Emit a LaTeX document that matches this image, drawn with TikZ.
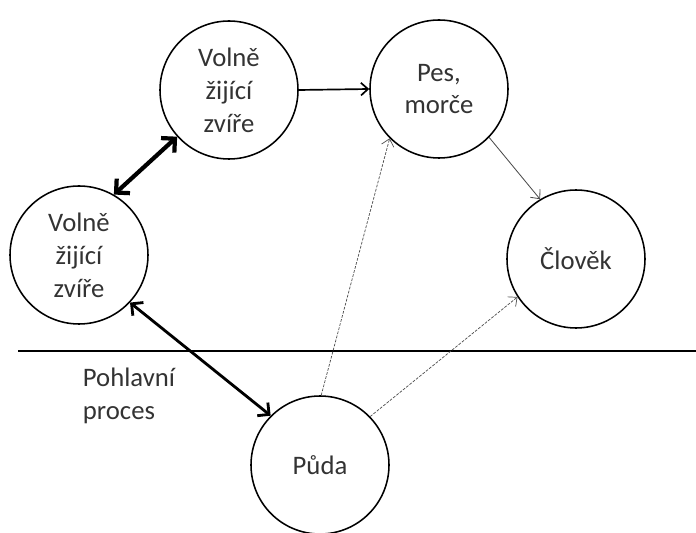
\documentclass[tikz,border=0pt]{standalone}
\usepackage{fontspec}
\setmainfont{Carlito}
\usepackage{tikz}
\usetikzlibrary{arrows.meta}

\begin{document}
\begin{tikzpicture}[
    kruh/.style={shape=circle,draw=black,line width=1.1pt,minimum size=3.45cm,inner sep=0pt,
        align=center,text=black!80,font=\fontsize{19}{23.4}\selectfont},
    sipka/.style={-{Straight Barb[length=5pt,width=9pt]}}]
    \useasboundingbox (0,0) rectangle (17.4,13.3);
    \node[kruh] (1) at (5.725,11.05) {Volně\\žijící\\zvíře};
    \node[kruh] (2) at (10.975,11.075) {Pes,\\morče};
    \node[kruh] (3) at (1.975,6.925) {Volně\\žijící\\zvíře};
    \node[kruh] (4) at (14.4,6.825) {Člověk};
    \node[kruh] (5) at (8.0,1.675) {Půda};
    \node[anchor=west,align=left,text=black!80,font=\fontsize{19}{23.4}\selectfont] (6) at (1.95,3.4) {Pohlavní\\proces};
    \path[draw=black,line width=0.8pt] (0.45,4.525) -- (17.4,4.525);
    \draw[sipka,line width=1.2pt] (1.0) -- (2.180);
    \draw[{Straight Barb[length=7pt,width=14pt]}-{Straight Barb[length=7pt,width=14pt]},line width=3pt] (1.222) -- (3.60);
    \draw[{Straight Barb[length=6pt,width=12pt]}-{Straight Barb[length=6pt,width=12pt]},line width=2pt] (3.-43) -- (5.135);
    \draw[sipka,line width=0.6pt,draw=black!70] (2.-44) -- (4.121);
    \draw[sipka,line width=0.5pt,draw=black!70,dash pattern=on 2pt off 1pt] (5.89) -- (2.225);
    \draw[sipka,line width=0.5pt,draw=black!70,dash pattern=on 2pt off 1pt] (5.44) -- (4.213);
\end{tikzpicture}
\end{document}
